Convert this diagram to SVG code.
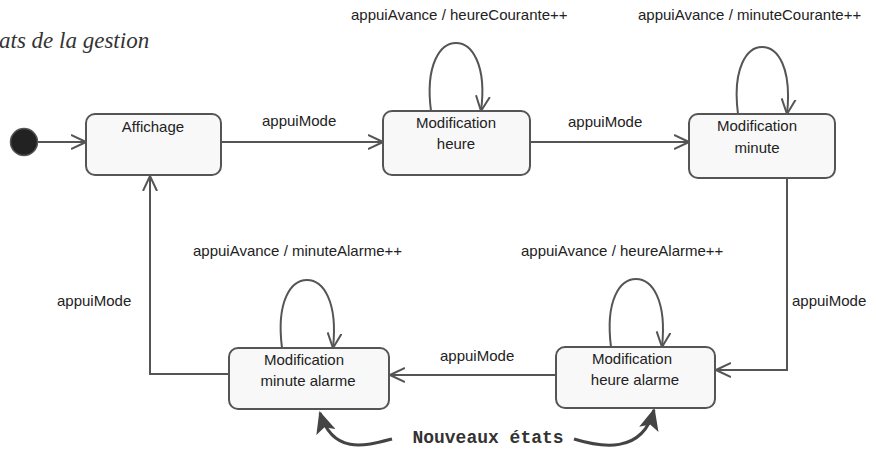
<svg xmlns="http://www.w3.org/2000/svg" width="876" height="452" viewBox="0 0 876 452">
<style>
.node rect{fill:#f8f8f8;stroke:#555;stroke-width:2}
.nt{font-family:"Liberation Sans",Arial,sans-serif;font-size:15px;fill:#222;text-anchor:middle}
.lb{font-family:"Liberation Sans",Arial,sans-serif;font-size:15px;fill:#222}
.edge{fill:none;stroke:#555;stroke-width:2;marker-end:url(#open)}
.note{fill:none;stroke:#444;stroke-width:3;marker-end:url(#solid)}
</style>
<defs>
<marker id="open" viewBox="0 0 16 16" refX="15" refY="8" markerWidth="16" markerHeight="16" markerUnits="userSpaceOnUse" orient="auto">
<path d="M0,1 L15,8 L0,15" fill="none" stroke="#555" stroke-width="2"/>
</marker>
<marker id="solid" viewBox="0 0 22 20" refX="20" refY="10" markerWidth="22" markerHeight="20" markerUnits="userSpaceOnUse" orient="auto">
<path d="M0,0 L22,10 L0,20 L5,10 Z" fill="#444"/>
</marker>
</defs>
<text x="-1" y="48" font-family="'Liberation Serif','Times New Roman',serif" font-style="italic" font-size="23" fill="#333">ats de la gestion</text>

<g id="connectors">
<path class="edge" d="M38,142 L86,142"/>
<path class="edge" d="M221,142 L383,142"/>
<path class="edge" d="M530,142 L689,142"/>
<path class="edge" d="M787,178 L787,370 L716,370"/>
<path class="edge" d="M556,375 L390,375"/>
<path class="edge" d="M229,374 L150,374 L150,176"/>
<path class="edge" d="M431,111 C425,65 440,43 456,43 C472,43 487,65 481,111"/>
<path class="edge" d="M738,114 C732,68 747,47 762,47 C778,47 792,68 787,114"/>
<path class="edge" d="M611,347 C605,300 620,279 636,279 C652,279 667,300 662,347"/>
<path class="edge" d="M282,348 C276,301 291,280 307,280 C323,280 338,301 333,348"/>
<text class="lb" x="262" y="126">appuiMode</text>
<text class="lb" x="568" y="127">appuiMode</text>
<text class="lb" x="792" y="306">appuiMode</text>
<text class="lb" x="440" y="361">appuiMode</text>
<text class="lb" x="57" y="306">appuiMode</text>
<text class="lb" x="351" y="20">appuiAvance  / heureCourante++</text>
<text class="lb" x="638" y="20">appuiAvance / minuteCourante++</text>
<text class="lb" x="521" y="256">appuiAvance / heureAlarme++</text>
<text class="lb" x="193" y="256">appuiAvance / minuteAlarme++</text>
<path class="note" d="M392,439 C365,446 333,455 320,413"/>
<path class="note" d="M574,439 C600,447 642,455 654,410"/>
</g>

<g id="initial"><circle cx="24" cy="142" r="13.5" fill="#222" stroke="#555" stroke-width="1.5"/></g>
<g id="affichage" class="node"><rect x="86" y="114" width="135" height="61" rx="9"/><text class="nt" x="153" y="132">Affichage</text></g>
<g id="modifHeure" class="node"><rect x="383" y="111" width="147" height="64" rx="9"/><text class="nt" x="456" y="128">Modification</text><text class="nt" x="456" y="149">heure</text></g>
<g id="modifMinute" class="node"><rect x="689" y="114" width="146" height="64" rx="9"/><text class="nt" x="757" y="131">Modification</text><text class="nt" x="757" y="153">minute</text></g>
<g id="modifHeureAlarme" class="node"><rect x="556" y="347" width="159" height="61" rx="9"/><text class="nt" x="632" y="364">Modification</text><text class="nt" x="635" y="385">heure alarme</text></g>
<g id="modifMinuteAlarme" class="node"><rect x="229" y="348" width="160" height="61" rx="9"/><text class="nt" x="304" y="365">Modification</text><text class="nt" x="308" y="386">minute alarme</text></g>
<g id="note"><text x="488" y="443" font-family="'Liberation Mono','Courier New',monospace" font-weight="bold" font-size="18" fill="#333" text-anchor="middle">Nouveaux états</text></g>
</svg>
